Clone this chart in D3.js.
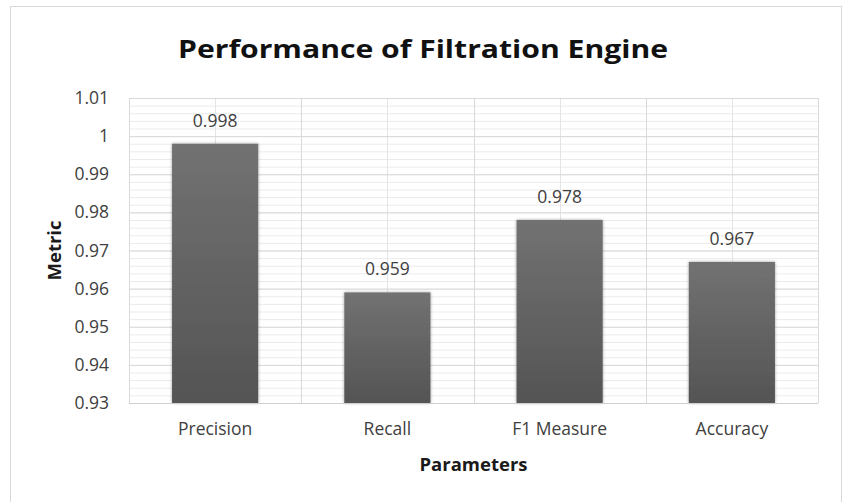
<!DOCTYPE html>
<html>
<head>
<meta charset="utf-8">
<script src="https://cdn.jsdelivr.net/npm/d3@7"></script>
<style>
  html, body { margin: 0; padding: 0; background: #fff; }
  svg { display: block; }
  text { font-family: "Open Sans", "Noto Sans", sans-serif; }
</style>
</head>
<body>
<svg id="chart" width="843" height="502"></svg>
<script>
// Chart data
const categories = ["Precision", "Recall", "F1 Measure", "Accuracy"];
const values = [0.998, 0.959, 0.978, 0.967];
const valueLabels = ["0.998", "0.959", "0.978", "0.967"];
const yTickValues = [0.93, 0.94, 0.95, 0.96, 0.97, 0.98, 0.99, 1.00, 1.01];
const yTickLabels = ["0.93", "0.94", "0.95", "0.96", "0.97", "0.98", "0.99", "1", "1.01"];
const yMinorStep = 0.002;
const titleText = "Performance of Filtration Engine";
const xTitle = "Parameters";
const yTitle = "Metric";

const plot = { left: 129, right: 818, top: 98, bottom: 403 };
const labelSize = 17.5;

const svg = d3.select("#chart");

// gradient and soft shadow for the bars
const defs = svg.append("defs");
const grad = defs.append("linearGradient")
  .attr("id", "barGrad").attr("x1", 0).attr("y1", 0).attr("x2", 0).attr("y2", 1);
grad.append("stop").attr("offset", "0%").attr("stop-color", "#727272");
grad.append("stop").attr("offset", "100%").attr("stop-color", "#545454");
const shadow = defs.append("filter").attr("id", "barShadow")
  .attr("x", "-10%").attr("y", "-10%").attr("width", "120%").attr("height", "120%");
shadow.append("feDropShadow").attr("dx", 0).attr("dy", 0)
  .attr("stdDeviation", 1.8).attr("flood-color", "#000").attr("flood-opacity", 0.4);

// outer chart border
svg.append("rect")
  .attr("x", 10.5).attr("y", 6.5).attr("width", 831).attr("height", 500)
  .attr("fill", "#fff").attr("stroke", "#d9d9d9").attr("stroke-width", 1);

// scales
const x = d3.scaleBand().domain(categories).range([plot.left, plot.right]).padding(0);
const y = d3.scaleLinear().domain([0.93, 1.01]).range([plot.bottom, plot.top]);

const g = svg.append("g");

// minor horizontal gridlines
const minorTicks = d3.range(0, Math.round((1.01 - 0.93) / yMinorStep) + 1)
  .map(i => 0.93 + i * yMinorStep);
g.append("g").call(
  d3.axisLeft(y).tickValues(minorTicks).tickSize(-(plot.right - plot.left)).tickFormat("")
).attr("transform", `translate(${plot.left},0)`)
 .call(a => a.select(".domain").remove())
 .call(a => a.selectAll("line").attr("stroke", "#ebebeb").attr("stroke-width", 1));

// minor vertical gridlines at category centres
g.append("g").selectAll("line").data(categories).join("line")
  .attr("x1", d => Math.round(x(d) + x.bandwidth() / 2) + 0.5)
  .attr("x2", d => Math.round(x(d) + x.bandwidth() / 2) + 0.5)
  .attr("y1", plot.top).attr("y2", plot.bottom)
  .attr("stroke", "#e4e4e4");

// major vertical gridlines at category boundaries
const bounds = categories.map(d => x(d)).concat([plot.right]);
g.append("g").selectAll("line").data(bounds).join("line")
  .attr("x1", d => Math.round(d) + 0.5).attr("x2", d => Math.round(d) + 0.5)
  .attr("y1", plot.top).attr("y2", plot.bottom)
  .attr("stroke", "#d9d9d9");

// major horizontal gridlines and tick labels
const yAxis = d3.axisLeft(y)
  .tickValues(yTickValues)
  .tickSize(-(plot.right - plot.left))
  .tickPadding(20)
  .tickFormat((d, i) => yTickLabels[i]);
g.append("g").attr("transform", `translate(${plot.left},0)`).call(yAxis)
  .call(a => a.select(".domain").remove())
  .call(a => a.selectAll("line").attr("stroke", "#d9d9d9"))
  .call(a => a.selectAll("text")
    .attr("fill", "#404040").attr("font-size", labelSize)
    .attr("font-family", "'Open Sans', sans-serif"));

// bars
g.append("g").selectAll("rect").data(values).join("rect")
  .attr("x", (d, i) => x(categories[i]) + x.bandwidth() / 4)
  .attr("width", x.bandwidth() / 2)
  .attr("y", d => y(d))
  .attr("height", d => y(0.93) - y(d))
  .attr("fill", "url(#barGrad)")
  .attr("filter", "url(#barShadow)");

// bottom axis line
g.append("line")
  .attr("x1", plot.left).attr("x2", plot.right)
  .attr("y1", plot.bottom + 0.5).attr("y2", plot.bottom + 0.5)
  .attr("stroke", "#cfcfcf");

// value labels
g.append("g").selectAll("text").data(values).join("text")
  .attr("x", (d, i) => x(categories[i]) + x.bandwidth() / 2)
  .attr("y", d => y(d) - 17)
  .attr("text-anchor", "middle")
  .attr("font-size", labelSize)
  .attr("fill", "#404040")
  .text((d, i) => valueLabels[i]);

// category axis labels
const xAxis = d3.axisBottom(x).tickSize(0).tickPadding(20);
g.append("g").attr("transform", `translate(0,${plot.bottom})`).call(xAxis)
  .call(a => a.select(".domain").remove())
  .call(a => a.selectAll("text")
    .attr("fill", "#404040").attr("font-size", labelSize)
    .attr("font-family", "'Open Sans', sans-serif"));

// axis titles
svg.append("text")
  .attr("x", (plot.left + plot.right) / 2).attr("y", 471)
  .attr("text-anchor", "middle")
  .attr("font-size", 18.5).attr("font-weight", "bold").attr("fill", "#1a1a1a")
  .text(xTitle);

svg.append("text")
  .attr("transform", `translate(61,${(plot.top + plot.bottom) / 2}) rotate(-90)`)
  .attr("text-anchor", "middle")
  .attr("font-size", 18.5).attr("font-weight", "bold").attr("fill", "#1a1a1a")
  .text(yTitle);

// chart title
svg.append("text")
  .attr("x", 423).attr("y", 58)
  .attr("text-anchor", "middle")
  .attr("font-size", 25).attr("font-weight", "bold").attr("fill", "#111")
  .attr("textLength", 490).attr("lengthAdjust", "spacingAndGlyphs")
  .text(titleText);
</script>
</body>
</html>
